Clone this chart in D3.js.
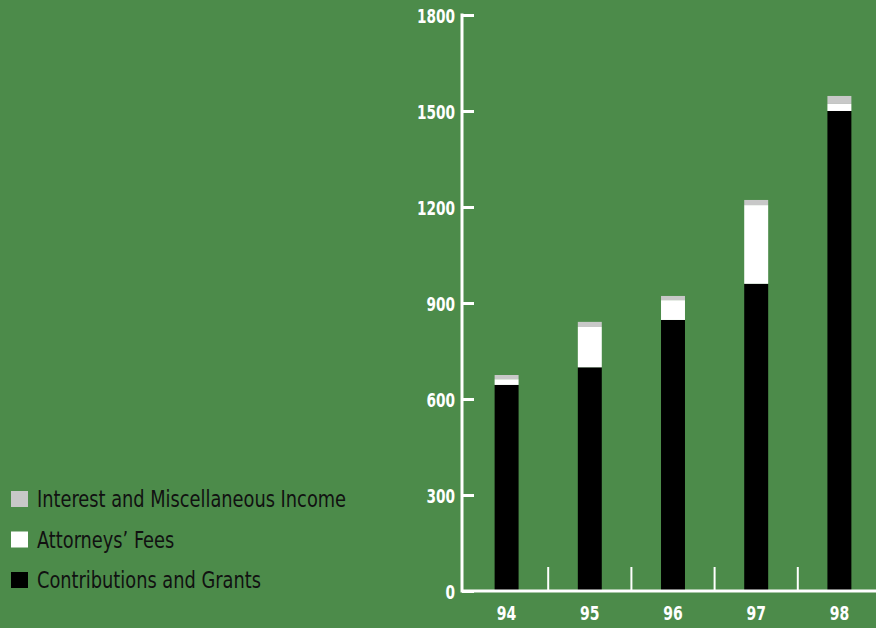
<!DOCTYPE html>
<html><head><meta charset="utf-8">
<script src="https://cdn.jsdelivr.net/npm/d3@7"></script>
<style>
html,body{margin:0;padding:0;background:#4c8b4a;}
svg{display:block;}
text{font-family:"Liberation Sans Narrow","DejaVu Sans Condensed","Roboto Condensed",sans-serif;}
</style></head>
<body>
<script>
const years = ["94","95","96","97","98"];
const contributions = [644, 699, 847, 960, 1500];
const attorneysFees = [18, 126, 62, 246, 22];
const interestMisc = [13, 16, 13, 16, 25];
const yTicks = [0, 300, 600, 900, 1200, 1500, 1800];
const seriesNames = ["Contributions and Grants", "Attorneys\u2019 Fees", "Interest and Miscellaneous Income"];
const seriesColors = ["#000000", "#ffffff", "#c8c8c8"];

const W = 876, H = 628;
const svg = d3.select("body").append("svg").attr("width", W).attr("height", H);
svg.append("rect").attr("width", W).attr("height", H).attr("fill", "#4c8b4a");

const x0 = 462, baseY = 591;
const y = d3.scaleLinear().domain([0, 1800]).range([baseY, 15]);
const x = d3.scaleBand().domain(years).range([465, 881]).paddingInner(0.712).paddingOuter(0.356);

const table = years.map((yr, i) => ({year: yr, c: contributions[i], a: attorneysFees[i], m: interestMisc[i]}));
const stack = d3.stack().keys(["c", "a", "m"])(table);

const g = svg.append("g");
stack.forEach((s, si) => {
  g.selectAll(null).data(s).enter().append("rect")
    .attr("x", d => x(d.data.year))
    .attr("width", x.bandwidth())
    .attr("y", d => y(d[1]))
    .attr("height", d => y(d[0]) - y(d[1]))
    .attr("fill", seriesColors[si]);
});

// Y axis
const yAxis = d3.axisRight(y).tickValues(yTicks).tickSize(12).tickFormat(d3.format("d"));
const ya = svg.append("g").attr("transform", `translate(${x0},0)`).call(yAxis);
ya.select(".domain").remove();
ya.selectAll(".tick line").attr("stroke", "#fff").attr("stroke-width", 3);
ya.selectAll(".tick text").attr("x", null).attr("dy", null).attr("text-anchor", "end").attr("fill", "#fff")
  .attr("font-size", 19).attr("font-weight", "bold").attr("transform", "translate(-7,7) scale(0.8,1)");
ya.append("line").attr("x1", 0).attr("x2", 0).attr("y1", y(1800) - 1.5).attr("y2", baseY + 1.5)
  .attr("stroke", "#fff").attr("stroke-width", 3);

// baseline
svg.append("line").attr("x1", x0).attr("x2", W).attr("y1", baseY).attr("y2", baseY)
  .attr("stroke", "#fff").attr("stroke-width", 3);

// separators between years
const step = x.step();
years.slice(0, -1).forEach((yr, i) => {
  const sx = x(yr) + x.bandwidth() + (step - x.bandwidth()) / 2;
  svg.append("line").attr("x1", sx).attr("x2", sx).attr("y1", baseY).attr("y2", baseY - 24)
    .attr("stroke", "#fff").attr("stroke-width", 2);
});

// x labels
svg.selectAll(null).data(years).enter().append("text")
  .attr("transform", d => `translate(${x(d) + x.bandwidth() / 2},620) scale(0.82,1)`)
  .attr("text-anchor", "middle").attr("fill", "#fff").attr("font-size", 19).attr("font-weight", "bold").text(d => d);

// legend
const legendOrder = [2, 1, 0];
legendOrder.forEach((si, r) => {
  const cy = 499 + r * 40.5;
  svg.append("rect").attr("x", 11).attr("y", cy - 8).attr("width", 17).attr("height", 16).attr("fill", seriesColors[si]);
  svg.append("text").attr("transform", `translate(37,${cy + 8}) scale(0.86,1)`)
    .attr("fill", "#111").attr("font-size", 23).text(seriesNames[si]);
});
</script>
</body></html>
